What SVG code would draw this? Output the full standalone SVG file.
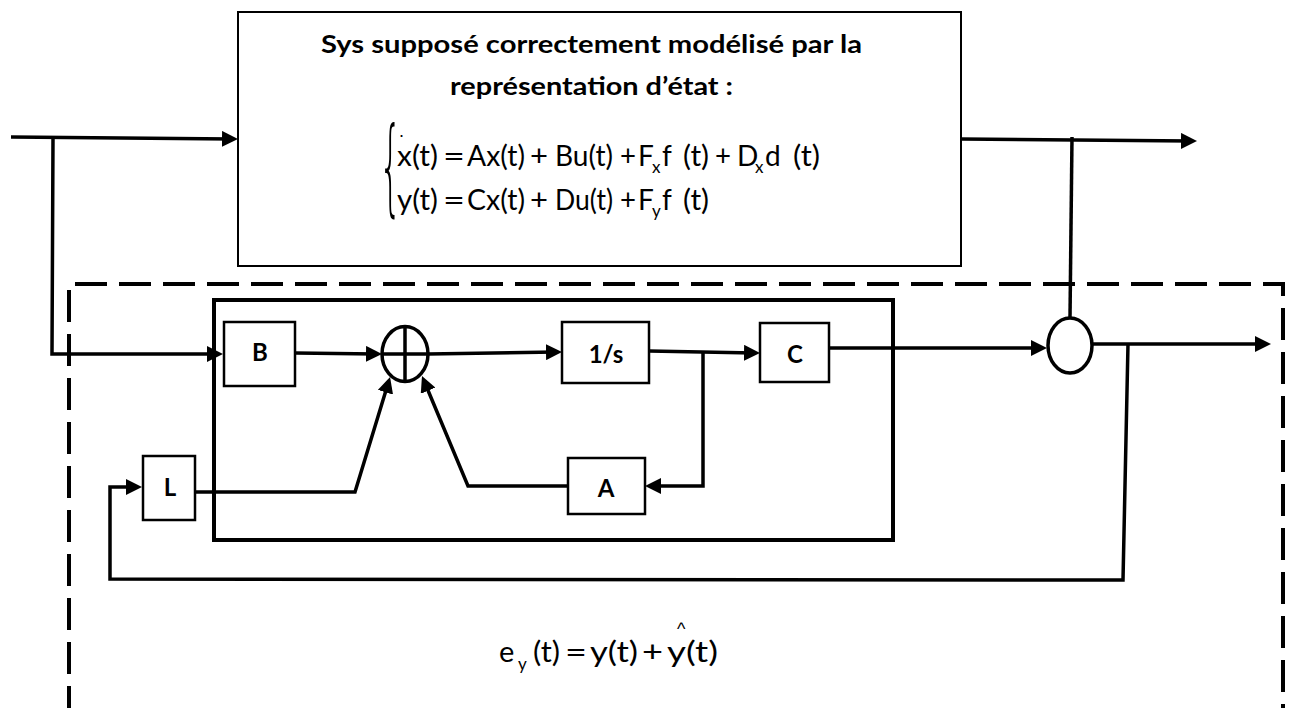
<svg xmlns="http://www.w3.org/2000/svg" width="1290" height="708" viewBox="0 0 1290 708">
  <style>
    .frame { fill: #fff; stroke: #000; stroke-width: 2; }
    .blk { fill: #fff; stroke: #000; stroke-width: 2.5; }
    .obs { fill: none; stroke: #000; stroke-width: 4; }
    .junc { fill: #fff; stroke: #000; stroke-width: 3.5; }
    .wire { fill: none; stroke: #000; stroke-width: 3.5; stroke-linejoin: miter; }
    .arr { marker-end: url(#ah); }
    .dash { fill: none; stroke: #000; stroke-width: 4; stroke-dasharray: 32 12; }
    .title { font-family: Lato, "Liberation Sans", sans-serif; font-weight: 700; font-size: 25px; }
    .lbl { font-family: Lato, "Liberation Sans", sans-serif; font-weight: 700; font-size: 24px; text-anchor: middle; }
    .eq { font-family: Lato, "Liberation Sans", sans-serif; font-size: 28px; }
    .eqb { font-family: Lato, "Liberation Sans", sans-serif; font-size: 29px; }
    .sub { font-family: Lato, "Liberation Sans", sans-serif; font-size: 17px; }
    .mark { font-family: "Liberation Sans", sans-serif; font-size: 18px; }
    .brace { font-family: "DejaVu Sans", sans-serif; font-weight: 200; font-size: 30px; }
  </style>
  <defs>
    <marker id="ah" viewBox="0 0 16 16" refX="10" refY="8" markerWidth="16" markerHeight="16" markerUnits="userSpaceOnUse" orient="auto">
      <path d="M0,0 L16,8 L0,16 z" fill="#000"/>
    </marker>
  </defs>

  <!-- observer boundary (dashed) -->
  <g id="observer-frame">
    <path class="dash" d="M75,284 L1283,284 L1283,708"/>
    <path class="dash" d="M69,290 L69,708"/>
  </g>

  <!-- observer core -->
  <g id="observer">
    <rect class="obs" x="214" y="300" width="679" height="240"/>
  </g>

  <g id="connectors">
    <!-- input u -->
    <path class="wire arr" d="M11,137 L232,139"/>
    <path class="wire arr" d="M53,138 L52,354 L217,354"/>
    <!-- B to summer -->
    <path class="wire arr" d="M295,353 L376,354"/>
    <!-- summer to integrator -->
    <path class="wire arr" d="M428,354 L556,352"/>
    <!-- integrator to C -->
    <path class="wire arr" d="M649,351 L754,353"/>
    <!-- state feedback through A -->
    <path class="wire arr" d="M703,352 L703,486 L651,486"/>
    <path class="wire arr" d="M568,486 L468,486 L424.3,381.5"/>
    <!-- L correction into summer -->
    <path class="wire arr" d="M195,492 L355,492 L388.3,382.7"/>
    <!-- estimated output to comparator -->
    <path class="wire arr" d="M829,348 L1041,348"/>
    <!-- residual out -->
    <path class="wire arr" d="M1092,344 L1265,344"/>
    <!-- residual fed back to L -->
    <path class="wire arr" d="M1128,344 L1123,580 L110,579 L110,487 L136,487"/>
    <!-- measured output into comparator -->
    <path class="wire" d="M1070,318 L1072,137"/>
    <!-- plant output y -->
    <path class="wire arr" d="M961,139 L1191,141"/>
  </g>

  <!-- plant -->
  <g id="plant">
    <rect class="frame" x="238" y="12" width="723" height="254"/>
    <text class="title" x="321" y="53" textLength="541" lengthAdjust="spacingAndGlyphs">Sys supposé correctement modélisé par la</text>
    <text class="title" x="450" y="95" textLength="283" lengthAdjust="spacingAndGlyphs">représentation d’état :</text>
    <text class="brace" transform="translate(379,202) scale(1.2,3.5)">{</text>
    <text class="mark" x="399" y="137">.</text>
    <!-- state equation -->
    <text class="eq" x="397" y="166" textLength="41" lengthAdjust="spacingAndGlyphs">x(t)</text>
    <text class="eq" x="443" y="166" textLength="22" lengthAdjust="spacingAndGlyphs">=</text>
    <text class="eq" x="467" y="166" textLength="58" lengthAdjust="spacingAndGlyphs">Ax(t)</text>
    <text class="eq" x="530" y="166" textLength="18" lengthAdjust="spacingAndGlyphs">+</text>
    <text class="eq" x="555" y="166" textLength="58" lengthAdjust="spacingAndGlyphs">Bu(t)</text>
    <text class="eq" x="620" y="166" textLength="16" lengthAdjust="spacingAndGlyphs">+</text>
    <text class="eq" x="638" y="166">F</text>
    <text class="sub" x="652" y="173">x</text>
    <text class="eq" x="662" y="166">f</text>
    <text class="eq" x="683" y="166" textLength="26" lengthAdjust="spacingAndGlyphs">(t)</text>
    <text class="eq" x="715" y="166" textLength="16" lengthAdjust="spacingAndGlyphs">+</text>
    <text class="eq" x="737" y="166">D</text>
    <text class="sub" x="755" y="173">x</text>
    <text class="eq" x="765" y="166">d</text>
    <text class="eq" x="793" y="166" textLength="27" lengthAdjust="spacingAndGlyphs">(t)</text>
    <!-- output equation -->
    <text class="eq" x="397" y="210" textLength="41" lengthAdjust="spacingAndGlyphs">y(t)</text>
    <text class="eq" x="443" y="210" textLength="22" lengthAdjust="spacingAndGlyphs">=</text>
    <text class="eq" x="467" y="210" textLength="58" lengthAdjust="spacingAndGlyphs">Cx(t)</text>
    <text class="eq" x="530" y="210" textLength="18" lengthAdjust="spacingAndGlyphs">+</text>
    <text class="eq" x="555" y="210" textLength="58" lengthAdjust="spacingAndGlyphs">Du(t)</text>
    <text class="eq" x="620" y="210" textLength="16" lengthAdjust="spacingAndGlyphs">+</text>
    <text class="eq" x="638" y="210">F</text>
    <text class="sub" x="652" y="217">y</text>
    <text class="eq" x="662" y="210">f</text>
    <text class="eq" x="683" y="210" textLength="26" lengthAdjust="spacingAndGlyphs">(t)</text>
  </g>

  <g id="blkB">
    <rect class="blk" x="224" y="322" width="71" height="64"/>
    <text class="lbl" x="260" y="361">B</text>
  </g>

  <g id="sum">
    <ellipse class="junc" cx="405" cy="354" rx="23" ry="27.5"/>
    <path class="wire" d="M382,354 L428,354 M405,326.5 L405,381.5"/>
  </g>

  <g id="blkInt">
    <rect class="blk" x="562" y="322" width="87" height="61"/>
    <text class="lbl" x="606" y="363">1/s</text>
  </g>

  <g id="blkC">
    <rect class="blk" x="760" y="323" width="69" height="59"/>
    <text class="lbl" x="795" y="363">C</text>
  </g>

  <g id="blkA">
    <rect class="blk" x="568" y="458" width="77" height="56"/>
    <text class="lbl" x="606" y="497">A</text>
  </g>

  <g id="blkL">
    <rect class="blk" x="143" y="456" width="52" height="64"/>
    <text class="lbl" x="170" y="496">L</text>
  </g>

  <g id="cmp">
    <ellipse class="junc" cx="1070" cy="345.5" rx="22" ry="27.5"/>
  </g>

  <!-- residual definition -->
  <g id="residual">
    <text class="eqb" x="499" y="662">e</text>
    <text class="sub" x="518" y="670">y</text>
    <text class="eqb" x="533" y="662" textLength="27" lengthAdjust="spacingAndGlyphs">(t)</text>
    <text class="eqb" x="565" y="662" textLength="22" lengthAdjust="spacingAndGlyphs">=</text>
    <text class="eqb" x="590" y="662" textLength="48" lengthAdjust="spacingAndGlyphs">y(t)</text>
    <text class="eqb" x="642" y="662" textLength="21" lengthAdjust="spacingAndGlyphs">+</text>
    <text class="eqb" x="667" y="662" textLength="51" lengthAdjust="spacingAndGlyphs">y(t)</text>
    <text class="mark" x="677" y="635">^</text>
  </g>
</svg>
